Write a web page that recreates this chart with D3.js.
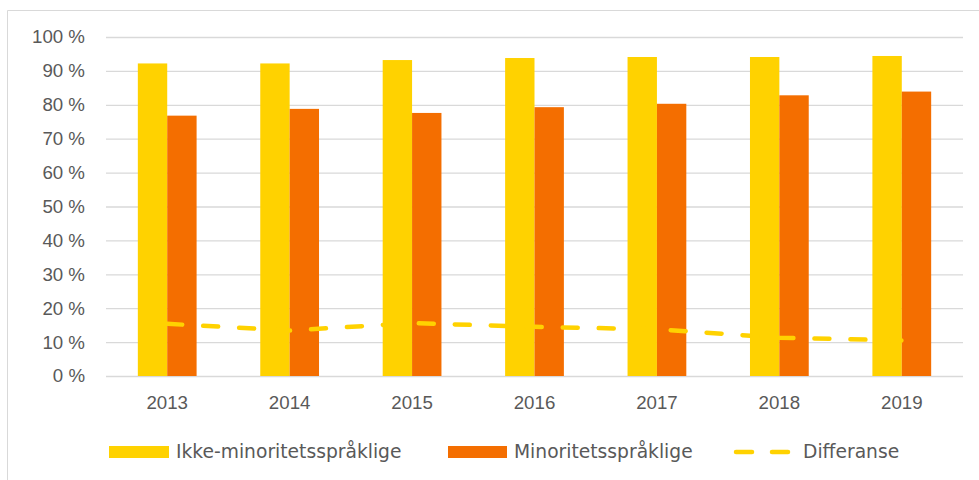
<!DOCTYPE html>
<html>
<head>
<meta charset="utf-8">
<script src="https://cdn.jsdelivr.net/npm/d3@7"></script>
<style>
  body { margin: 0; background: #fff; }
  svg { display: block; font-family: "DejaVu Sans", Verdana, sans-serif; }
</style>
</head>
<body>
<div id="chart"></div>
<script>
const years = ["2013", "2014", "2015", "2016", "2017", "2018", "2019"]
const ikkeMinoritet = [92.2, 92.2, 93.2, 93.8, 94.1, 94.1, 94.4]
const minoritet = [76.8, 78.8, 77.6, 79.3, 80.3, 82.8, 83.9]
const differanse = [15.4, 13.4, 15.6, 14.5, 13.8, 11.3, 10.5]
const yTicks = [0, 10, 20, 30, 40, 50, 60, 70, 80, 90, 100]
const seriesNames = ["Ikke-minoritetsspråklige", "Minoritetsspråklige", "Differanse"]

const W = 979, H = 480
const yellow = "#FFD200", orange = "#F46E00", textCol = "#595959", grid = "#D9D9D9"
const fontSize = "18.7px"

const svg = d3.select("#chart").append("svg")
  .attr("width", W).attr("height", H)

// chart frame (only left and top visible)
svg.append("path")
  .attr("d", "M7.5," + H + " V10.5 H" + W)
  .attr("fill", "none").attr("stroke", grid).attr("stroke-width", 1)

const plotL = 106, plotR = 963, plotT = 37, plotB = 376

const x = d3.scaleBand().domain(years).range([plotL, plotR])
  .paddingInner(0.52).paddingOuter(0.26)
const x1 = d3.scaleBand().domain([0, 1]).range([0, x.bandwidth()])
const y = d3.scaleLinear().domain([0, 100]).range([plotB, plotT])

// gridlines + y labels
const yAxis = svg.append("g")
  .attr("transform", "translate(" + plotL + ",0)")
  .call(d3.axisLeft(y).tickValues(yTicks).tickSize(-(plotR - plotL)).tickPadding(21)
    .tickFormat(d => d + " %"))
yAxis.select(".domain").remove()
yAxis.selectAll(".tick line").attr("stroke", grid).attr("stroke-width", 1.3)
yAxis.selectAll(".tick text").attr("fill", textCol).style("font-size", fontSize)

// bars
const groups = svg.append("g").selectAll("g").data(years).join("g")
  .attr("transform", d => "translate(" + x(d) + ",0)")
groups.append("rect")
  .attr("x", x1(0)).attr("width", x1.bandwidth())
  .attr("y", (d, i) => y(ikkeMinoritet[i]))
  .attr("height", (d, i) => y(0) - y(ikkeMinoritet[i]))
  .attr("fill", yellow)
groups.append("rect")
  .attr("x", x1(1)).attr("width", x1.bandwidth())
  .attr("y", (d, i) => y(minoritet[i]))
  .attr("height", (d, i) => y(0) - y(minoritet[i]))
  .attr("fill", orange)

// x labels
const xAxis = svg.append("g")
  .attr("transform", "translate(0," + plotB + ")")
  .call(d3.axisBottom(x).tickSize(0).tickPadding(20))
xAxis.select(".domain").remove()
xAxis.selectAll(".tick text").attr("fill", textCol).style("font-size", fontSize)

// differanse line
const line = d3.line()
  .x((d, i) => x(years[i]) + x.bandwidth() / 2)
  .y(d => y(d))
svg.append("path")
  .datum(differanse)
  .attr("d", line)
  .attr("fill", "none")
  .attr("stroke", yellow)
  .attr("stroke-width", 4.5)
  .attr("stroke-linecap", "round")
  .attr("stroke-dasharray", "15,21")

// legend
const legY = 452
const leg = svg.append("g")
leg.append("rect").attr("x", 109).attr("y", legY - 6).attr("width", 60).attr("height", 12).attr("fill", yellow)
leg.append("text").attr("x", 176).attr("y", legY + 6).text(seriesNames[0])
leg.append("rect").attr("x", 448).attr("y", legY - 6).attr("width", 59).attr("height", 12).attr("fill", orange)
leg.append("text").attr("x", 514).attr("y", legY + 6).text(seriesNames[1])
leg.append("line").attr("x1", 736).attr("x2", 752).attr("y1", legY).attr("y2", legY)
  .attr("stroke", yellow).attr("stroke-width", 4.5).attr("stroke-linecap", "round")
leg.append("line").attr("x1", 772).attr("x2", 788).attr("y1", legY).attr("y2", legY)
  .attr("stroke", yellow).attr("stroke-width", 4.5).attr("stroke-linecap", "round")
leg.append("text").attr("x", 803).attr("y", legY + 6).text(seriesNames[2])
leg.selectAll("text").attr("fill", textCol).style("font-size", fontSize)
</script>
</body>
</html>
